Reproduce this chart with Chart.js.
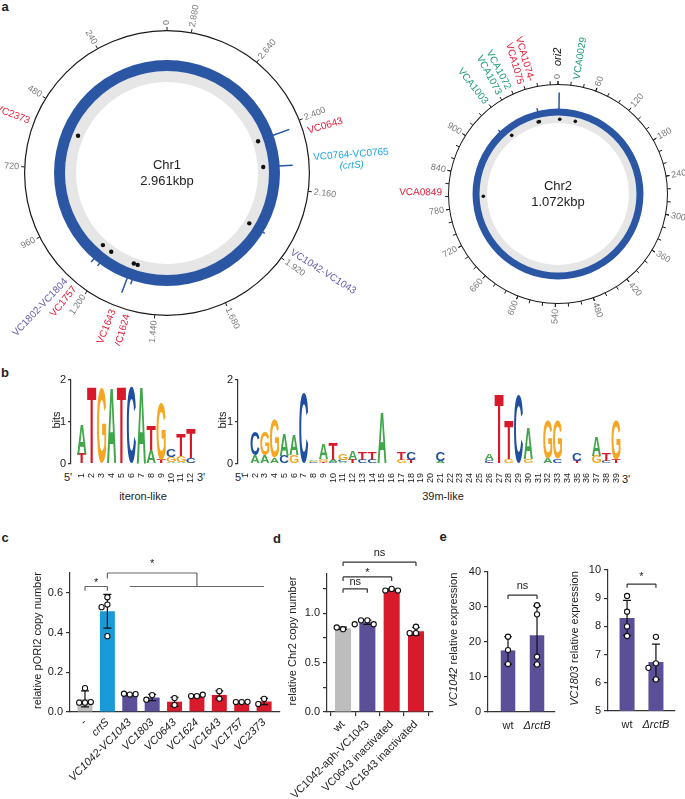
<!DOCTYPE html>
<html><head><meta charset="utf-8">
<script src="https://cdn.jsdelivr.net/npm/chart.js@4.4.1/dist/chart.umd.min.js"></script>
<style>
html,body{margin:0;padding:0;background:#fff}
body{width:685px;height:799px;overflow:hidden;position:relative;font-family:"Liberation Sans",Arial,sans-serif;color:#222}
canvas{position:absolute}
.t{position:absolute;white-space:nowrap;line-height:1;transform:translate(-50%,-50%)}
.pl{font-weight:bold;font-size:13px}
.s{font-size:11px}
</style></head><body>
<div class="t pl" style="left:5px;top:6px">a</div>
<div class="t pl" style="left:5px;top:372px">b</div>
<div class="t pl" style="left:5px;top:537px">c</div>
<div class="t pl" style="left:277px;top:538px">d</div>
<div class="t pl" style="left:443px;top:536px">e</div>
<div class="t s" style="left:68px;top:477px">5'</div>
<div class="t s" style="left:201px;top:477px">3'</div>
<div class="t s" style="left:239px;top:477px">5'</div>
<div class="t s" style="left:626px;top:479px">3'</div>
<div class="t s" style="left:143px;top:496px">iteron-like</div>
<div class="t s" style="left:443px;top:496px">39m-like</div>
<script>
// ================= DATA =================
// Panel a - chromosome 1 (positions in kbp, drawn counter-clockwise)
const chr1Length = 2961;
const chr1TickPos = [0, 240, 480, 720, 960, 1200, 1440, 1680, 1920, 2160, 2400, 2640, 2880];
const chr1TickLabels = ['0', '240', '480', '720', '960', '1.200', '1.440', '1.680', '1.920', '2.160', '2.400', '2.640', '2.880'];
const chr1DotPos = [553, 2379, 2250, 1962, 1138, 1190, 1315, 1335];
const chr1PeakPos = [2382, 2250, 1310, 1148, 1178, 1332, 1960];
const chr1PeakCov = [17, 13, 15, 4, 3, 4, 2];
const chr1Genes = [['VC2373'], ['VC0643'], ['VC0764-VC0765', '(crtS)'], ['VC1042-VC1043'], ['VC1802-VC1804'], ['VC1757'], ['VC1643'], ['VC1624']];
const chr1GenePos = [570, 2357, 2254, 1955, 1124, 1161, 1304, 1351];
const chr1GeneGroup = ['red', 'red', 'cyan', 'purple', 'purple', 'red', 'red', 'red'];

// Panel a - chromosome 2 (clockwise)
const chr2Length = 1072;
const chr2TickPos = [0, 60, 120, 180, 240, 300, 360, 420, 480, 540, 600, 660, 720, 780, 840, 900];
const chr2TickLabels = ['0', '60', '120', '180', '240', '300', '360', '420', '480', '540', '600', '660', '720', '780', '840', '900'];
const chr2MinorStep = 20;
const chr2DotPos = [4, 40, 1026, 1029, 958, 799];
const chr2PeakPos = [2, 1031, 944];
const chr2PeakCov = [16, 3, 2];
const chr2Genes = [['VCA0029'], ['ori2'], ['VCA1074-', 'VCA1075'], ['VCA1072', 'VCA1073'], ['VCA1003'], ['VCA0849']];
const chr2GenePos = [27.6, 0, 1024, 989, 958, 806];
const chr2GeneGroup = ['green', 'ori', 'red', 'green', 'green', 'red'];

// Panel b - sequence logos (letters bottom->top, information in bits)
const iteronLetters = ['TA', 'T', 'G', 'A', 'T', 'C', 'A', 'AT', 'TG', 'AGC', 'AGT', 'GCT'];
const iteronBits = [[0.25, 0.7], [1.83], [1.8], [1.82], [1.83], [1.82], [1.83], [0.33, 0.57], [0.1, 1.36], [0.04, 0.12, 0.17], [0.04, 0.14, 0.53], [0.03, 0.12, 0.72]];
const m39Letters = ['', 'AC', 'AG', 'AG', 'CA', 'GA', 'C', 'TCGA', 'TGA', 'CAT', 'ACG', 'TA', 'CT', 'CT', 'A', '', 'GT', 'TC', '', '', 'AC', '', '', '', '', 'TCA', 'T', 'GT', 'C', 'GA', '', 'AG', 'CG', '', 'TC', '', 'GA', 'CT', 'TG'];
const m39Bits = [[], [0.2, 0.57], [0.2, 0.57], [0.15, 0.9], [0.19, 0.53], [0.21, 0.5], [1.67], [0.02, 0.02, 0.02, 0.03], [0.05, 0.06, 0.37], [0.04, 0.05, 0.39], [0.04, 0.06, 0.15], [0.09, 0.2], [0.1, 0.19], [0.1, 0.19], [1.23], [], [0.1, 0.19], [0.09, 0.2], [], [], [0.08, 0.21], [], [], [], [], [0.03, 0.06, 0.16], [1.64], [0.12, 0.93], [1.64], [0.12, 0.75], [], [0.12, 0.9], [0.12, 0.9], [], [0.08, 0.17], [], [0.2, 0.45], [0.07, 0.18], [0.1, 0.95]];

// Panel c
const cCats = ['-', 'crtS', 'VC1042-VC1043', 'VC1803', 'VC0643', 'VC1624', 'VC1643', 'VC1757', 'VC2373'];
const cMeans = [0.066, 0.507, 0.09, 0.073, 0.052, 0.082, 0.086, 0.05, 0.053];
const cSD = [0.04, 0.085, 0.003, 0.016, 0.022, 0.005, 0.02, 0.002, 0.016];
const cPoints = [[0.12, 0.047, 0.047, 0.05], [0.578, 0.541, 0.528, 0.382], [0.088, 0.092, 0.09], [0.085, 0.062], [0.07, 0.035], [0.08, 0.08, 0.087], [0.105, 0.067], [0.05, 0.05, 0.051], [0.066, 0.04]];
const cGroup = ['ctrl', 'crts', 'chr1p', 'chr1p', 'chr1r', 'chr1r', 'chr1r', 'chr1r', 'chr1r'];
const cBracketLines = [[0, 0.61, 0, 0.632], [0, 0.632, 1, 0.632], [1, 0.632, 1, 0.61], [1, 0.672, 1, 0.70], [1, 0.70, 5, 0.70], [5, 0.70, 5, 0.632], [2, 0.632, 8, 0.632]];
const cBracketMarks = [[0.5, 0.665, '*'], [3, 0.76, '*']];

// Panel d
const dCats = ['wt', 'VC1042-aph-VC1043', 'VC0643 inactivated', 'VC1643 inactivated'];
const dMeans = [0.85, 0.91, 1.24, 0.82];
const dSD = [0.012, 0.022, 0.01, 0.04];
const dPoints = [[0.84, 0.857], [0.93, 0.93, 0.89, 0.89], [1.249, 1.232, 1.232], [0.865, 0.8, 0.8]];
const dGroup = ['ctrl', 'chr1p', 'chr1r', 'chr1r'];
const dBracketLines = [[0, 1.21, 0, 1.25], [0, 1.25, 1, 1.25], [1, 1.25, 1, 1.21], [0, 1.33, 0, 1.37], [0, 1.37, 2, 1.37], [2, 1.37, 2, 1.33], [0, 1.48, 0, 1.52], [0, 1.52, 3, 1.52], [3, 1.52, 3, 1.48]];
const dBracketMarks = [[0.5, 1.315, 'ns'], [1, 1.44, '*'], [1.5, 1.615, 'ns']];

// Panel e
const eCats = ['wt', 'ΔrctB'];
const e1Means = [17.6, 21.9];
const e1SD = [3.9, 8.4];
const e1Points = [[21.5, 17.7, 13.7], [30.5, 27.9, 15.8, 13.6]];
const e1BracketLines = [[0, 32.3, 0, 33.4], [0, 33.4, 1, 33.4], [1, 33.4, 1, 32.3]];
const e1BracketMarks = [[0.5, 36, 'ns']];
const e2Means = [8.3, 6.74];
const e2SD = [0.62, 0.63];
const e2Points = [[9.08, 8.52, 8.0, 7.66], [7.63, 6.69, 6.53, 6.12]];
const e2BracketLines = [[0, 9.37, 0, 9.5], [0, 9.5, 1, 9.5], [1, 9.5, 1, 9.37]];
const e2BracketMarks = [[0.5, 9.85, '*']];

// ================= STYLE =================
const FONT = '"Liberation Sans", Arial, sans-serif';
Chart.defaults.font.family = FONT;
Chart.defaults.color = '#222';
const GENE_COLORS = { red: '#e4203c', cyan: '#1ea6e0', purple: '#6a5ba8', green: '#1f9e70', ori: '#111' };
const BAR_COLORS = { ctrl: '#bdbdbd', crts: '#1a9bd7', chr1p: '#5b4f97', chr1r: '#d71b2d' };
const LOGO_COLORS = { A: '#3fa64a', C: '#1f4f9e', G: '#f5a623', T: '#d7192a' };
const RING_BLUE = '#2a56a4';

function mkCanvas(left, top, w, h) {
  const c = document.createElement('canvas');
  c.width = w; c.height = h;
  c.style.cssText = 'left:' + left + 'px;top:' + top + 'px;width:' + w + 'px;height:' + h + 'px';
  document.body.appendChild(c);
  return c;
}

function radialLabel(ctx, cx, cy, a, r, lines, fonts, color, align, lh) {
  const x = cx + r * Math.sin(a), y = cy - r * Math.cos(a);
  const deg = ((a * 180 / Math.PI) % 360 + 360) % 360;
  const right = deg < 180.5;
  ctx.save();
  ctx.translate(x, y);
  ctx.rotate(right ? a - Math.PI / 2 : a + Math.PI / 2);
  ctx.fillStyle = color;
  ctx.textBaseline = 'middle';
  const n = lines.length;
  let W = 0;
  lines.forEach((l, i) => { ctx.font = fonts[i]; W = Math.max(W, ctx.measureText(l).width); });
  lines.forEach((l, i) => {
    ctx.font = fonts[i];
    const yy = (i - (n - 1) / 2) * lh;
    if (align === 'center') { ctx.textAlign = 'center'; ctx.fillText(l, right ? W / 2 : -W / 2, yy); }
    else { ctx.textAlign = right ? 'left' : 'right'; ctx.fillText(l, 0, yy); }
  });
  ctx.restore();
}

function genomePlugin(g) {
  return {
    id: 'genome',
    afterDatasetsDraw(chart) {
      const ctx = chart.ctx;
      const o = chart.getDatasetMeta(0).data[0].getProps(['x', 'y', 'outerRadius'], true);
      const b = chart.getDatasetMeta(2).data[0].getProps(['outerRadius', 'innerRadius'], true);
      const gr = chart.getDatasetMeta(3).data[0].getProps(['outerRadius', 'innerRadius'], true);
      const cx = o.x, cy = o.y, R = o.outerRadius;
      const A = p => g.dir * p / g.length * 2 * Math.PI;
      const P = (a, r) => [cx + r * Math.sin(a), cy - r * Math.cos(a)];
      ctx.save();
      // ticks
      ctx.strokeStyle = '#1a1a1a'; ctx.lineWidth = 1;
      ctx.beginPath();
      g.tickPos.concat(g.minorPos).forEach(p => {
        const a = A(p); const [x1, y1] = P(a, R - 0.5); const [x2, y2] = P(a, R + 3);
        ctx.moveTo(x1, y1); ctx.lineTo(x2, y2);
      });
      ctx.stroke();
      g.tickPos.forEach((p, i) => radialLabel(ctx, cx, cy, A(p), R + g.tickGap, [g.tickLabels[i]], ['9px ' + FONT], '#7a7a7a', 'start', 10));
      // coverage peaks
      ctx.strokeStyle = RING_BLUE; ctx.lineWidth = 1.5;
      ctx.beginPath();
      g.peakPos.forEach((p, i) => {
        const a = A(p); const [x1, y1] = P(a, b.outerRadius - 1); const [x2, y2] = P(a, b.outerRadius + g.peakCov[i]);
        ctx.moveTo(x1, y1); ctx.lineTo(x2, y2);
      });
      ctx.stroke();
      // dots
      const rd = (gr.outerRadius + gr.innerRadius) / 2;
      ctx.fillStyle = '#111';
      g.dotPos.forEach(p => {
        const [x, y] = P(A(p), rd);
        ctx.beginPath(); ctx.arc(x, y, g.dotR, 0, Math.PI * 2); ctx.fill();
      });
      // gene labels
      g.genes.forEach((lines, i) => {
        const grp = g.groups[i];
        const fonts = lines.map(l => ((grp === 'ori' || l.indexOf('crtS') >= 0) ? 'italic ' : '') + (grp === 'ori' ? '11px ' : '10px ') + FONT);
        radialLabel(ctx, cx, cy, A(g.genePos[i]), R + (grp === 'ori' ? g.oriGap : g.geneGap), lines, fonts, GENE_COLORS[grp], lines.length > 1 && g.dir < 0 ? 'center' : 'start', 11);
      });
      // centre text
      ctx.fillStyle = '#222'; ctx.font = '13px ' + FONT; ctx.textAlign = 'center'; ctx.textBaseline = 'middle';
      ctx.fillText(g.name, cx, cy - 8);
      ctx.fillText(g.size, cx, cy + 8);
      ctx.restore();
    }
  };
}

function genomeChart(canvas, g) {
  return new Chart(canvas, {
    type: 'doughnut',
    data: {
      labels: [g.name], datasets: [
        { data: [g.length], backgroundColor: ['#1a1a1a'], weight: g.rings[0], borderWidth: 0 },
        { data: [g.length], backgroundColor: ['rgba(0,0,0,0)'], weight: g.rings[1], borderWidth: 0 },
        { data: [g.length], backgroundColor: [RING_BLUE], weight: g.rings[2], borderWidth: 0 },
        { data: [g.length], backgroundColor: ['#e6e6e6'], weight: g.rings[3], borderWidth: 0 }
      ]
    },
    options: {
      responsive: false, animation: false, events: [], radius: g.R, cutout: g.cutout,
      layout: { padding: 0 }, plugins: { legend: { display: false }, tooltip: { enabled: false } }
    },
    plugins: [genomePlugin(g)]
  });
}

const chr2Minor = [];
for (let p = 0; p < chr2Length; p += chr2MinorStep) chr2Minor.push(p);

genomeChart(mkCanvas(-63, 0, 460, 346), {
  name: 'Chr1', size: '2.961kbp', length: chr1Length, dir: -1, R: 143, cutout: '63.6%', rings: [1.2, 28.8, 11, 11],
  tickPos: chr1TickPos, tickLabels: chr1TickLabels, minorPos: [], tickGap: 5,
  dotPos: chr1DotPos, dotR: 2.2, peakPos: chr1PeakPos, peakCov: chr1PeakCov,
  genes: chr1Genes, genePos: chr1GenePos, groups: chr1GeneGroup, geneGap: 4, oriGap: 18
});
genomeChart(mkCanvas(398, 0, 320, 388), {
  name: 'Chr2', size: '1.072kbp', length: chr2Length, dir: 1, R: 110, cutout: '64.5%', rings: [1, 23.5, 7, 7.5],
  tickPos: chr2TickPos, tickLabels: chr2TickLabels, minorPos: chr2Minor, tickGap: 5,
  dotPos: chr2DotPos, dotR: 1.8, peakPos: chr2PeakPos, peakCov: chr2PeakCov,
  genes: chr2Genes, genePos: chr2GenePos, groups: chr2GeneGroup, geneGap: 6, oriGap: 18
});

// ---------- shared plugins ----------
function yTitlePlugin(parts, dx, size) {
  return {
    id: 'ytitle',
    afterDraw(chart) {
      const ctx = chart.ctx, a = chart.chartArea;
      ctx.save();
      ctx.translate(a.left + dx, (a.top + a.bottom) / 2 - 2);
      ctx.rotate(-Math.PI / 2);
      ctx.fillStyle = '#222'; ctx.textBaseline = 'middle'; ctx.textAlign = 'left';
      const fonts = parts.map(p => (p.i ? 'italic ' : '') + size + 'px ' + FONT);
      let total = 0;
      const ws = parts.map((p, k) => { ctx.font = fonts[k]; const w = ctx.measureText(p.t).width; total += w; return w; });
      let x = -total / 2;
      parts.forEach((p, k) => { ctx.font = fonts[k]; ctx.fillText(p.t, x, 0); x += ws[k]; });
      ctx.restore();
    }
  };
}

function drawLetter(ctx, ch, x, top, bottom, w, color) {
  const h = bottom - top;
  if (h < 0.4) return;
  ctx.save();
  ctx.font = 'bold 100px ' + FONT;
  const m = ctx.measureText(ch);
  const gw = m.actualBoundingBoxLeft + m.actualBoundingBoxRight;
  const gh = m.actualBoundingBoxAscent + m.actualBoundingBoxDescent;
  ctx.translate(x - w / 2, top);
  ctx.scale(w / gw, h / gh);
  ctx.fillStyle = color; ctx.textAlign = 'left'; ctx.textBaseline = 'alphabetic';
  ctx.fillText(ch, m.actualBoundingBoxLeft, m.actualBoundingBoxAscent);
  ctx.restore();
}

function logoPlugin(letters) {
  return {
    id: 'logo',
    afterDatasetsDraw(chart) {
      const ctx = chart.ctx;
      chart.data.datasets.forEach((ds, r) => {
        chart.getDatasetMeta(r).data.forEach((el, i) => {
          const ch = letters[i][r];
          if (!ch) return;
          const p = el.getProps(['x', 'y', 'base', 'width'], true);
          drawLetter(ctx, ch, p.x, p.y, p.base, p.width, LOGO_COLORS[ch]);
        });
      });
    }
  };
}

function logoChart(canvas, letters, bits, cfg) {
  const N = letters.length;
  const ranks = [0, 1, 2, 3];
  return new Chart(canvas, {
    type: 'bar',
    data: {
      datasets: ranks.map(r => ({
        data: letters.map((l, i) => ({ x: i + 1, y: bits[i][r] || 0 })),
        backgroundColor: 'rgba(0,0,0,0)', borderWidth: 0, barPercentage: 0.92, categoryPercentage: 1
      }))
    },
    options: {
      responsive: false, animation: false, events: [], layout: { padding: cfg.pad },
      plugins: { legend: { display: false }, tooltip: { enabled: false } },
      scales: {
        x: {
          type: 'linear', stacked: true, min: cfg.xmin, max: cfg.xmax, offset: false,
          grid: { display: false }, border: { display: false },
          ticks: { stepSize: 1, autoSkip: false, includeBounds: false, minRotation: 90, maxRotation: 90, padding: 1, color: '#222', font: { size: 9 },
            callback: v => (Number.isInteger(v) && v >= 1 && v <= N) ? String(v) : '' },
          afterFit: s => { s.height = cfg.xH; }
        },
        y: {
          stacked: true, min: 0, max: 2,
          grid: { drawOnChartArea: false, tickLength: 3, color: '#333', lineWidth: 1.2 },
          border: { color: '#333', width: 1.2 },
          ticks: { stepSize: 1, padding: 2, color: '#222', font: { size: 11 } },
          afterFit: s => { s.width = cfg.yW; }
        }
      }
    },
    plugins: [logoPlugin(letters), yTitlePlugin([{ t: 'bits' }], cfg.titleDx, 11)]
  });
}

logoChart(mkCanvas(20, 365, 183, 125), iteronLetters, iteronBits, { pad: { left: 11, top: 15, right: 6, bottom: 0 }, xmin: -0.08, xmax: 12.6, xH: 26, yW: 40, titleDx: -14 });
logoChart(mkCanvas(190, 365, 438, 125), m39Letters, m39Bits, { pad: { left: 8, top: 15, right: 5, bottom: 0 }, xmin: 0.25, xmax: 39.7, xH: 26, yW: 40, titleDx: -15 });

// ---------- bar charts ----------
function swarm(vals, tol) {
  const placed = [];
  return vals.map(v => {
    for (const o of [0, -1, 1, -2, 2]) {
      if (!placed.some(p => p.o === o && Math.abs(p.v - v) < tol)) { placed.push({ v, o }); return o; }
    }
    return 0;
  });
}

function errPlugin(means, sd) {
  return {
    id: 'err',
    afterDatasetDraw(chart, args) {
      if (args.index !== 0) return;
      const ctx = chart.ctx, xs = chart.scales.x, ys = chart.scales.y;
      ctx.save(); ctx.strokeStyle = '#111'; ctx.lineWidth = 1.2; ctx.beginPath();
      means.forEach((m, i) => {
        const x = xs.getPixelForValue(i), t = ys.getPixelForValue(m + sd[i]), b = ys.getPixelForValue(m - sd[i]);
        ctx.moveTo(x, t); ctx.lineTo(x, b);
        ctx.moveTo(x - 4, t); ctx.lineTo(x + 4, t);
        ctx.moveTo(x - 4, b); ctx.lineTo(x + 4, b);
      });
      ctx.stroke(); ctx.restore();
    }
  };
}

function bracketPlugin(lines, marks, color) {
  return {
    id: 'brackets',
    afterDraw(chart) {
      const ctx = chart.ctx, xs = chart.scales.x, ys = chart.scales.y;
      ctx.save(); ctx.strokeStyle = color; ctx.lineWidth = 1.2; ctx.beginPath();
      lines.forEach(([x1, y1, x2, y2]) => {
        ctx.moveTo(xs.getPixelForValue(x1), ys.getPixelForValue(y1));
        ctx.lineTo(xs.getPixelForValue(x2), ys.getPixelForValue(y2));
      });
      ctx.stroke();
      ctx.fillStyle = '#222'; ctx.font = '11px ' + FONT; ctx.textAlign = 'center'; ctx.textBaseline = 'middle';
      marks.forEach(([x, y, t]) => ctx.fillText(t, xs.getPixelForValue(x), ys.getPixelForValue(y) + (t === '*' ? 3 : 0)));
      ctx.restore();
    }
  };
}

function barChart(canvas, cfg) {
  const pts = [];
  cfg.points.forEach((arr, i) => {
    const offs = swarm(arr, (cfg.ymax - cfg.ymin) * 0.045);
    arr.forEach((v, j) => pts.push({ x: i + offs[j] * 0.26, y: v }));
  });
  return new Chart(canvas, {
    type: 'bar',
    data: {
      datasets: [
        { type: 'bar', data: cfg.means.map((m, i) => ({ x: i, y: m })), backgroundColor: cfg.colors, borderWidth: 0, barPercentage: cfg.barPct, categoryPercentage: 1, order: 2 },
        { type: 'scatter', data: pts, pointRadius: 2.6, pointBackgroundColor: '#fff', pointBorderColor: '#111', pointBorderWidth: 1.1, order: 1 }
      ]
    },
    options: {
      responsive: false, animation: false, events: [], layout: { padding: cfg.pad },
      plugins: { legend: { display: false }, tooltip: { enabled: false } },
      scales: {
        x: {
          type: 'linear', min: cfg.xmin, max: cfg.xmax, offset: false,
          grid: { display: cfg.xTicks, drawOnChartArea: false, drawTicks: cfg.xTicks, tickLength: 4, color: '#333', lineWidth: 1.2 },
          border: { display: true, color: '#333', width: 1.2 },
          ticks: {
            stepSize: 1, autoSkip: false, includeBounds: false, minRotation: cfg.rot, maxRotation: cfg.rot, padding: cfg.xPad, color: '#222',
            font: c => ({ size: 11, style: cfg.italic(c.tick ? c.tick.value : -1) ? 'italic' : 'normal' }),
            callback: v => (Number.isInteger(v) && cfg.cats[v] !== undefined) ? cfg.cats[v] : ''
          },
          afterFit: s => { s.height = cfg.xH; }
        },
        y: {
          min: cfg.ymin, max: cfg.ymax,
          grid: { drawOnChartArea: false, tickLength: 4, color: '#333', lineWidth: 1.2 },
          border: { color: '#333', width: 1.2 },
          ticks: { stepSize: cfg.step, includeBounds: false, padding: 3, color: '#222', font: { size: 11 }, callback: cfg.fmt },
          afterFit: s => { s.width = cfg.yW; }
        }
      }
    },
    plugins: [errPlugin(cfg.means, cfg.sd), bracketPlugin(cfg.lines, cfg.marks, cfg.lineColor), yTitlePlugin(cfg.title, cfg.titleDx, 11)]
  });
}

barChart(mkCanvas(20, 545, 268, 254), {
  cats: cCats, means: cMeans, sd: cSD, points: cPoints, colors: cGroup.map(g => BAR_COLORS[g]),
  pad: { left: 10, top: 28, right: 8, bottom: 0 }, yW: 40, xH: 87,
  xmin: -0.67, xmax: 8.71, ymin: 0, ymax: 0.7, step: 0.2, fmt: v => Number(v).toFixed(1),
  rot: 45, xPad: 4, xTicks: false, italic: v => v > 0, barPct: 0.67,
  lines: cBracketLines, marks: cBracketMarks, lineColor: '#666',
  title: [{ t: 'relative pORI2 copy number' }], titleDx: -32
});

barChart(mkCanvas(280, 545, 161, 254), {
  cats: dCats, means: dMeans, sd: dSD, points: dPoints, colors: dGroup.map(g => BAR_COLORS[g]),
  pad: { left: 7, top: 29, right: 8, bottom: 0 }, yW: 40, xH: 87,
  xmin: -0.66, xmax: 3.7, ymin: 0, ymax: 1.4, step: 0.25,
  fmt: v => (Math.abs(v * 2 - Math.round(v * 2)) < 1e-6 ? Number(v).toFixed(1) : ''),
  rot: 45, xPad: 2, xTicks: true, italic: v => false, barPct: 0.66,
  lines: dBracketLines, marks: dBracketMarks, lineColor: '#333',
  title: [{ t: 'relative Chr2 copy number' }], titleDx: -34
});

barChart(mkCanvas(440, 545, 121, 254), {
  cats: eCats, means: e1Means, sd: e1SD, points: e1Points, colors: eCats.map(() => BAR_COLORS.chr1p),
  pad: { left: 8, top: 27, right: 6, bottom: 0 }, yW: 40, xH: 87,
  xmin: -0.69, xmax: 1.62, ymin: 0, ymax: 40, step: 10, fmt: v => String(v),
  rot: 0, xPad: 7, xTicks: false, italic: v => v === 1, barPct: 0.5,
  lines: e1BracketLines, marks: e1BracketMarks, lineColor: '#333',
  title: [{ t: 'VC1042', i: true }, { t: ' relative expression' }], titleDx: -34
});

barChart(mkCanvas(560, 545, 123, 254), {
  cats: eCats, means: e2Means, sd: e2SD, points: e2Points, colors: eCats.map(() => BAR_COLORS.chr1p),
  pad: { left: 8, top: 25, right: 8, bottom: 0 }, yW: 40, xH: 88,
  xmin: -0.66, xmax: 1.66, ymin: 5, ymax: 10, step: 1, fmt: v => String(v),
  rot: 0, xPad: 7, xTicks: false, italic: v => v === 1, barPct: 0.52,
  lines: e2BracketLines, marks: e2BracketMarks, lineColor: '#333',
  title: [{ t: 'VC1803', i: true }, { t: ' relative expression' }], titleDx: -33
});
</script>
</body></html>
